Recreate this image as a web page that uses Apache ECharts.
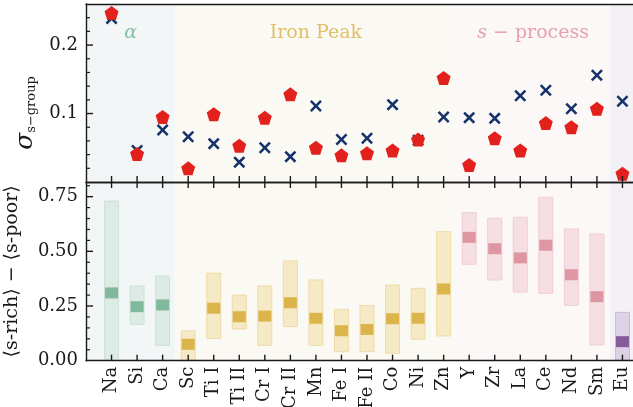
<!DOCTYPE html>
<html>
<head>
<meta charset="utf-8">
<script src="https://cdn.jsdelivr.net/npm/echarts@6/dist/echarts.min.js"></script>
<style>
  html, body { margin: 0; padding: 0; background: #fff; }
  #chart { width: 633px; height: 407px; }
</style>
</head>
<body>
<div id="chart"></div>
<script>
// element labels along the x axis
const elements = ['Na', 'Si', 'Ca', 'Sc', 'Ti I', 'Ti II', 'Cr I', 'Cr II', 'Mn', 'Fe I', 'Fe II',
    'Co', 'Ni', 'Zn', 'Y', 'Zr', 'La', 'Ce', 'Nd', 'Sm', 'Eu'];
const groupOf = ['alpha', 'alpha', 'alpha',
    'iron', 'iron', 'iron', 'iron', 'iron', 'iron', 'iron', 'iron', 'iron', 'iron', 'iron',
    's', 's', 's', 's', 's', 's', 'eu'];

// top panel: scatter of each group
const sigmaCross = [0.239, 0.046, 0.076, 0.066, 0.056, 0.029, 0.050, 0.037, 0.111, 0.062, 0.064,
    0.113, 0.061, 0.095, 0.094, 0.093, 0.126, 0.134, 0.107, 0.156, 0.118];
const sigmaPent = [0.247, 0.041, 0.095, 0.020, 0.099, 0.053, 0.094, 0.128, 0.050, 0.039, 0.042,
    0.046, 0.062, 0.152, 0.025, 0.064, 0.046, 0.086, 0.080, 0.107, 0.012];

// bottom panel: difference with its range
const diffMid = [0.310, 0.247, 0.255, 0.075, 0.240, 0.201, 0.204, 0.265, 0.194, 0.137, 0.143,
    0.192, 0.194, 0.328, 0.564, 0.512, 0.470, 0.528, 0.393, 0.293, 0.087];
const diffLo = [0.000, 0.166, 0.070, 0.003, 0.101, 0.145, 0.070, 0.156, 0.070, 0.041, 0.041,
    0.034, 0.098, 0.113, 0.441, 0.369, 0.314, 0.308, 0.253, 0.072, 0.003];
const diffHi = [0.730, 0.342, 0.387, 0.136, 0.400, 0.300, 0.342, 0.456, 0.369, 0.235, 0.252,
    0.346, 0.331, 0.590, 0.677, 0.651, 0.656, 0.747, 0.602, 0.579, 0.221];

// y tick positions (major / minor) for each panel
const topMax = 0.26;
const bottomMax = 0.817;
const topMajorTicks = [0.1, 0.2];
const topMinorTicks = [0.02, 0.04, 0.06, 0.08, 0.12, 0.14, 0.16, 0.18, 0.22, 0.24];
const bottomMajorTicks = [0.25, 0.5, 0.75];
const bottomMinorTicks = [0.05, 0.1, 0.15, 0.2, 0.3, 0.35, 0.4, 0.45, 0.55, 0.6, 0.65, 0.7, 0.8];

// region spans (in element index units) and their titles
const regionFrom = [-1, 2.5, 13.5, 19.5];
const regionTo = [2.5, 13.5, 19.5, 21];
const regionBg = ['#f2f6f6', '#fbf9f3', '#fcf8f7', '#f3f1f6'];
const regionTitle = ['{i|α}', 'Iron Peak', '{i|s} − process', ''];
const regionTitleColor = ['#86c2a3', '#e2bf66', '#e5a1ae', '#000'];

const colors = {
    alpha: { mark: '#6aad8b', fill: '#dcebe3', edge: '#cde2d6' },
    iron: { mark: '#d6a82b', fill: '#f5e9c6', edge: '#eedba8' },
    s: { mark: '#d78391', fill: '#f6dfe3', edge: '#efcdd4' },
    eu: { mark: '#6f3d87', fill: '#ddd1e6', edge: '#cbbad9' }
};

const font = 'DejaVu Serif';
const ink = '#1a1a1a';
const pentagon = 'path://M50 0 L97.6 34.5 L79.4 90.5 L20.6 90.5 L2.4 34.5 Z';
const cross = 'path://M15 0 L50 35 L85 0 L100 15 L65 50 L100 85 L85 100 L50 65 L15 100 L0 85 L35 50 L0 15 Z';

const chart = echarts.init(document.getElementById('chart'));

function xAxisBase(grid) {
    return {
        type: 'value', gridIndex: grid, min: -1, max: 21, interval: 1, z: 10,
        axisLine: { show: true, onZero: false, lineStyle: { color: ink, width: 1.4 } },
        axisTick: { show: false },
        axisLabel: { show: false },
        splitLine: { show: false }
    };
}

function yAxis(grid, max, major, digits, name) {
    return {
        type: 'value', gridIndex: grid, min: 0, max: max, interval: major, z: 10,
        name: name.text, nameLocation: 'middle', nameRotate: 90, nameGap: name.gap,
        nameTextStyle: name.style,
        axisLine: { show: true, onZero: false, lineStyle: { color: ink, width: 1.4 } },
        axisTick: { show: false },
        axisLabel: {
            color: ink, fontFamily: font, fontSize: 18, margin: 8,
            showMaxLabel: false, showMinLabel: grid === 1,
            formatter: v => v.toFixed(digits)
        },
        splitLine: { show: false }
    };
}

// shaded background bands, drawn from the axis scales, kept under the axes
function bandSeries(xIdx, yIdx, withTitles) {
    return {
        type: 'custom', xAxisIndex: xIdx, yAxisIndex: yIdx, z: -5, silent: true,
        clip: true,
        renderItem: (params, api) => {
            const k = params.dataIndex;
            const a = api.coord([api.value(0), 0]);
            const b = api.coord([api.value(1), 0]);
            const cs = params.coordSys;
            const children = [{
                type: 'rect',
                shape: { x: a[0], y: cs.y, width: b[0] - a[0], height: cs.height },
                style: { fill: regionBg[k] }
            }];
            if (withTitles && regionTitle[k]) {
                children.push({
                    type: 'text',
                    style: {
                        x: (a[0] + b[0]) / 2, y: cs.y + 29, text: regionTitle[k],
                        align: 'center', verticalAlign: 'middle',
                        fill: regionTitleColor[k], font: '19px "DejaVu Serif"',
                        rich: { i: { fontFamily: font, fontStyle: 'italic', fontSize: 19, fill: regionTitleColor[k] } }
                    }
                });
            }
            return { type: 'group', children };
        },
        encode: { x: [0, 1] },
        data: regionFrom.map((f, k) => [f, regionTo[k]])
    };
}

// tick marks as thin rect symbols placed through the axis scales
function tickSeries(xIdx, yIdx, data, size, offset) {
    return {
        type: 'scatter', xAxisIndex: xIdx, yAxisIndex: yIdx, z: 30, silent: true,
        clip: false, symbol: 'rect', symbolSize: size, symbolOffset: offset,
        itemStyle: { color: ink, opacity: 1 },
        data: data
    };
}

const bottomX = xAxisBase(1);
bottomX.axisLabel = {
    show: true, rotate: 90, margin: 6, color: ink, fontFamily: font, fontSize: 18,
    formatter: v => elements[v] || ''
};
const bottomTopX = xAxisBase(1);
bottomTopX.position = 'top';
const topTopX = xAxisBase(0);
topTopX.position = 'top';

const option = {
    animation: false,
    grid: [
        { left: 86, top: 4, width: 562, height: 178, outerBoundsMode: 'none', containLabel: false },
        { left: 86, top: 182, width: 562, height: 178.7, outerBoundsMode: 'none', containLabel: false }
    ],
    xAxis: [xAxisBase(0), topTopX, bottomX, bottomTopX],
    yAxis: [
        yAxis(0, topMax, 0.1, 1, {
            text: '{s|σ}{b|s−group}', gap: 47,
            style: {
                color: ink,
                rich: {
                    s: { fontFamily: font, fontStyle: 'italic', fontSize: 25, color: ink },
                    b: { fontFamily: font, fontSize: 13, color: ink, verticalAlign: 'bottom', padding: [8, 40, 0, 0] }
                }
            }
        }),
        yAxis(1, bottomMax, 0.25, 2, {
            text: '⟨s-rich⟩ − ⟨s-poor⟩', gap: 64,
            style: { color: ink, fontFamily: font, fontSize: 19 }
        })
    ],
    series: [
        bandSeries(0, 0, true),
        bandSeries(2, 1, false),
        {
            type: 'scatter', xAxisIndex: 0, yAxisIndex: 0, z: 3,
            symbol: cross, symbolSize: 12,
            itemStyle: { color: '#15336a', opacity: 1 },
            data: sigmaCross.map((v, i) => [i, v])
        },
        {
            type: 'scatter', xAxisIndex: 0, yAxisIndex: 0, z: 4,
            symbol: pentagon, symbolSize: 14,
            itemStyle: { color: '#e3211c', opacity: 1 },
            data: sigmaPent.map((v, i) => [i, v])
        },
        {
            type: 'custom', xAxisIndex: 2, yAxisIndex: 1, z: 3,
            clip: true,
            renderItem: (params, api) => {
                const i = api.value(0);
                const top = api.coord([i, api.value(2)]);
                const bot = api.coord([i, api.value(1)]);
                const c = colors[groupOf[i]];
                return {
                    type: 'rect',
                    shape: { x: top[0] - 7, y: top[1], width: 14, height: bot[1] - top[1] },
                    style: { fill: c.fill, stroke: c.edge, lineWidth: 1 }
                };
            },
            encode: { x: 0, y: [1, 2] },
            data: elements.map((e, i) => [i, diffLo[i], diffHi[i]])
        },
        {
            type: 'scatter', xAxisIndex: 2, yAxisIndex: 1, z: 4,
            symbol: 'rect', symbolSize: [13, 11],
            data: diffMid.map((v, i) => ({
                value: [i, v],
                itemStyle: { color: colors[groupOf[i]].mark }
            }))
        },
        // x ticks: top panel bottom edge (up), bottom panel top edge (down) and bottom edge (up)
        tickSeries(0, 0, elements.map((e, i) => [i, 0]), [1.4, 6], [0, -3]),
        tickSeries(2, 1, elements.map((e, i) => [i, bottomMax]), [1.4, 6], [0, 3]),
        tickSeries(2, 1, elements.map((e, i) => [i, 0]), [1.4, 6], [0, -3]),
        // y ticks on the left spine
        tickSeries(0, 0, topMajorTicks.map(v => [-1, v]), [7, 1.4], [3.5, 0]),
        tickSeries(0, 0, topMinorTicks.map(v => [-1, v]), [4, 1.2], [2, 0]),
        tickSeries(2, 1, bottomMajorTicks.map(v => [-1, v]), [7, 1.4], [3.5, 0]),
        tickSeries(2, 1, bottomMinorTicks.map(v => [-1, v]), [4, 1.2], [2, 0])
    ]
};

chart.setOption(option);
</script>
</body>
</html>
